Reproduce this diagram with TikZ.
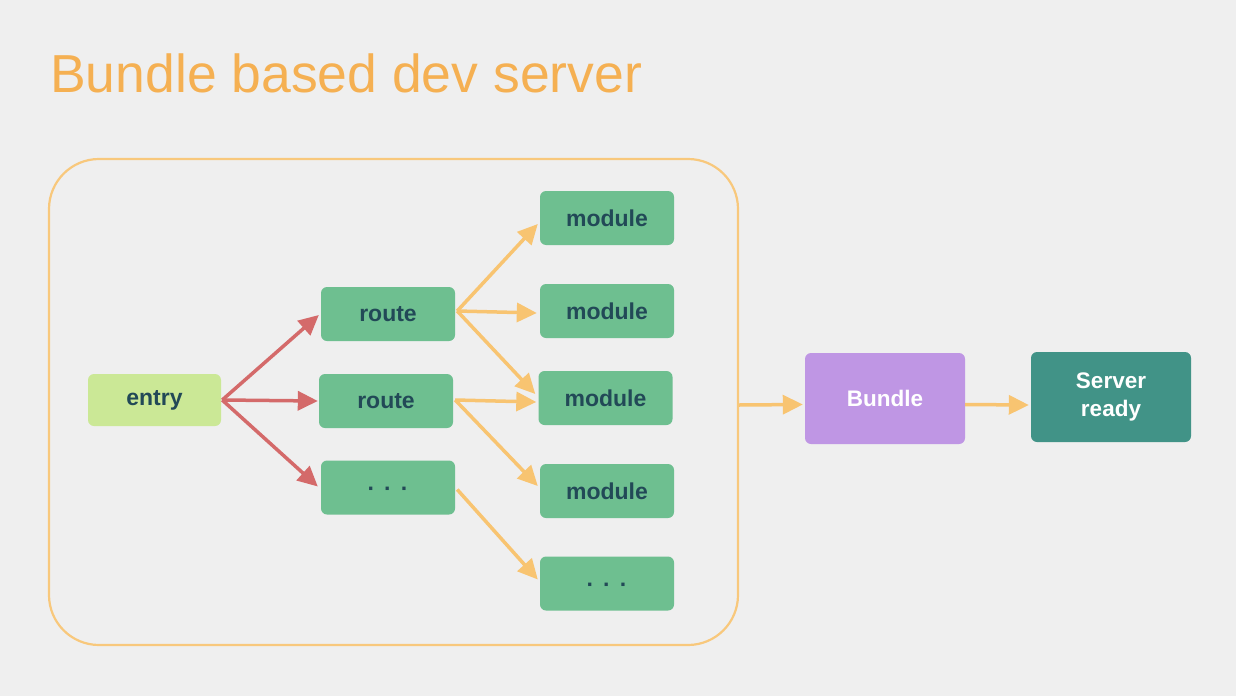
\documentclass[tikz,border=0pt]{standalone}
\usepackage{fontspec}
\setmainfont{Liberation Sans}
\usetikzlibrary{arrows.meta}
\definecolor{bg}{RGB}{239,239,239}
\definecolor{titleorange}{RGB}{245,176,82}
\definecolor{boxorange}{RGB}{248,200,124}
\definecolor{arroworange}{RGB}{248,196,113}
\definecolor{arrowred}{RGB}{212,106,106}
\definecolor{entryfill}{RGB}{203,232,150}
\definecolor{greenfill}{RGB}{110,191,144}
\definecolor{darktext}{RGB}{34,73,87}
\definecolor{bundlefill}{RGB}{191,150,228}
\definecolor{serverfill}{RGB}{65,147,135}
\tikzset{
  greenbox/.style={fill=greenfill, rounded corners=6pt, minimum width=134pt, minimum height=54pt, inner sep=0pt, text=darktext, font=\fontsize{23}{26}\selectfont\bfseries},
  entrybox/.style={greenbox, fill=entryfill, minimum width=133pt, minimum height=52pt},
  bigbox/.style={rounded corners=6pt, minimum width=160pt, minimum height=91pt, inner sep=0pt, text=white, font=\fontsize{22.5}{28}\selectfont\bfseries, align=center},
  redarrow/.style={draw=arrowred, line width=3.5pt, -{Triangle[length=20pt,width=19pt]}},
  orarrow/.style={draw=arroworange, line width=3.5pt, -{Triangle[length=20pt,width=19pt]}},
}
\newcommand{\threedots}{\raisebox{-8.5pt}[0pt][0pt]{·\hspace{9pt}·\hspace{9pt}·}}
\begin{document}
\begin{tikzpicture}[x=1pt,y=-1pt]
\fill[bg] (0,0) rectangle (1236,696);
\useasboundingbox (0,0) rectangle (1236,696);
\node[anchor=base west, inner sep=0pt, text=titleorange, font=\fontsize{53.5}{60}\selectfont] (title) at (50,92) {Bundle based dev server};
\draw[boxorange, line width=2.2pt, rounded corners=50pt] (49,159) rectangle (738,645);
\coordinate (boxout) at (739,405);
\node[entrybox] (entry) at (154.5,400) {entry};
\node[greenbox] (r1) at (388,314) {route};
\node[greenbox] (r2) at (386,401) {route};
\node[greenbox] (r3) at (388,487.5) {\threedots};
\node[greenbox] (m1) at (607,218) {module};
\node[greenbox] (m2) at (607,311) {module};
\node[greenbox] (m3) at (605.5,398) {module};
\node[greenbox] (m4) at (607,491) {module};
\node[greenbox] (m5) at (607,583.5) {\threedots};
\node[bigbox, fill=bundlefill] (bundle) at (885,398.5) {Bundle};
\node[bigbox, fill=serverfill, minimum height=90pt] (server) at (1111,397) {Server\\ready};
% red arrows
\draw[redarrow] ([xshift=1pt]entry.east) -- ([xshift=-2pt,yshift=-1pt]r1.west);
\draw[redarrow] ([xshift=1pt]entry.east) -- ([xshift=-1pt]r2.west);
\draw[redarrow] ([xshift=1pt]entry.east) -- ([xshift=-3pt,yshift=1pt]r3.west);
% orange arrows
\draw[orarrow] ([xshift=2pt,yshift=3pt]r1.east) -- ([xshift=-2pt,yshift=-6pt]m1.west);
\draw[orarrow] ([xshift=2pt,yshift=3pt]r1.east) -- ([xshift=-3pt,yshift=-2pt]m2.west);
\draw[orarrow] ([xshift=2pt,yshift=3pt]r1.east) -- ([xshift=-3pt,yshift=4pt]m3.west);
\draw[orarrow] ([xshift=2pt,yshift=1pt]r2.east) -- ([xshift=-2pt,yshift=-4pt]m3.west);
\draw[orarrow] ([xshift=2pt,yshift=1pt]r2.east) -- ([xshift=-2pt,yshift=5pt]m4.west);
\draw[orarrow] ([xshift=2pt,yshift=-2pt]r3.east) -- ([xshift=-2pt,yshift=4pt]m5.west);
\draw[orarrow] (boxout) -- ([xshift=-2pt,yshift=-6pt]bundle.west);
\draw[orarrow] ([yshift=-6pt]bundle.east) -- ([xshift=-2pt,yshift=-8pt]server.west);
\end{tikzpicture}
\end{document}
